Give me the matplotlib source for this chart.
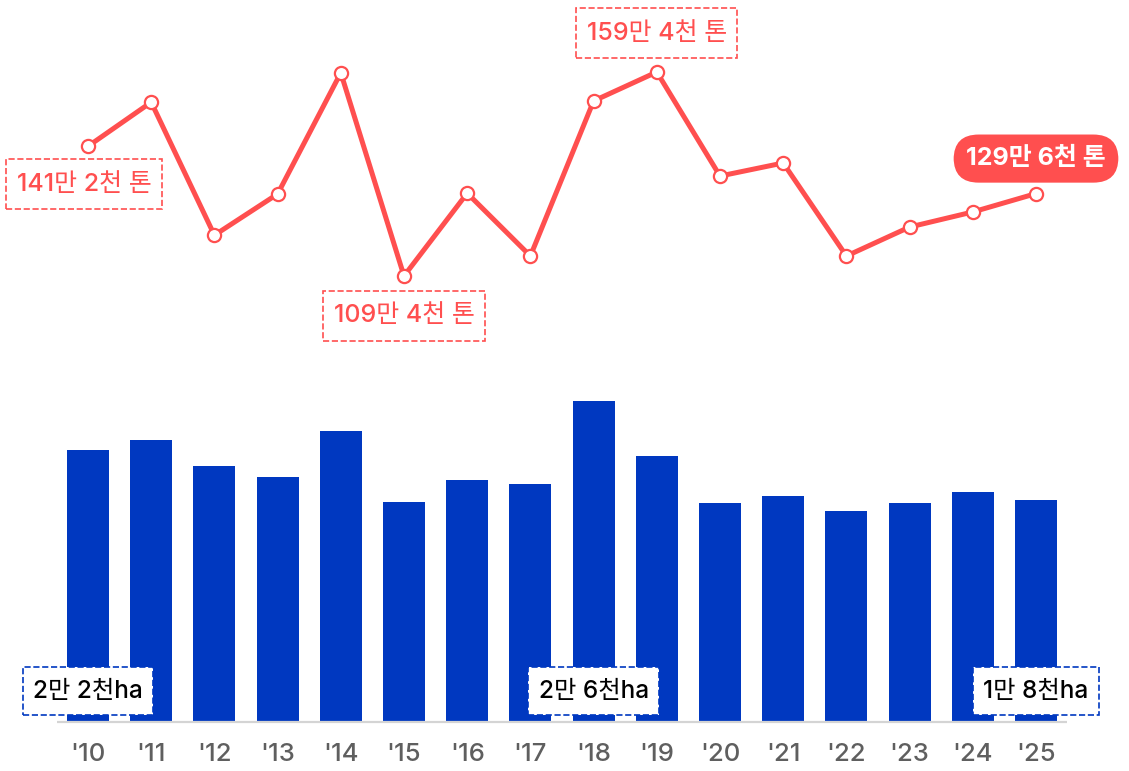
import numpy as np
import matplotlib.pyplot as plt

plt.rcParams['font.family'] = ['Inter', 'Noto Sans CJK KR', 'DejaVu Sans']

years = ["'10", "'11", "'12", "'13", "'14", "'15", "'16", "'17",
         "'18", "'19", "'20", "'21", "'22", "'23", "'24", "'25"]
# 생산량 (만 톤)
prod = [141.2, 152.0, 119.4, 129.5, 159.2, 109.4, 129.7, 114.3,
        152.3, 159.4, 133.9, 137.1, 114.3, 121.4, 125.1, 129.6]
# 재배면적 (천 ha)
area = [22.0, 22.8, 20.7, 19.8, 23.6, 17.8, 19.6, 19.3,
        26.0, 21.5, 17.7, 18.3, 17.1, 17.7, 18.6, 18.0]

RED = '#ff4f4f'
BLUE = '#0038c0'

x = np.arange(len(years))
fig = plt.figure(figsize=(11.29, 7.71), dpi=100)

# bars (bottom)
ax = fig.add_axes([0, 0, 1, 1])
ax.bar(x, area, width=0.665, color=BLUE, zorder=2)
ax.set_xlim(-88 / 63.2, (1129 - 88) / 63.2)
ax.set_ylim(-49 / 12.35, -49 / 12.35 + 771 / 12.35)
ax.plot([-0.49, 15.49], [0, 0], color='#d4d4d4', lw=1.6, zorder=3, solid_capstyle='butt')
for i, yy in enumerate(years):
    ax.text(i, -2.65, yy, ha='center', va='center', fontsize=18.5, color='#5f5f5f',
            fontweight='medium')
ax.axis('off')

bar_lbl = {0: '2만 2천ha', 8: '2만 6천ha', 15: '1만 8천ha'}
for i, s in bar_lbl.items():
    ax.annotate(s, xy=(i, 0), xytext=(0, 31), textcoords='offset pixels',
                ha='center', va='center', fontsize=17.5, color='black', zorder=5,
                fontweight='medium',
                bbox=dict(boxstyle='square,pad=0.43', fc='white', ec=BLUE,
                          ls='--', lw=1.2, mutation_aspect=1.15))

# line (top)
ax2 = fig.add_axes([0, 0, 1, 1], sharex=ax)
ax2.set_ylim(-11.93, 177.05)
ax2.plot(x, prod, color=RED, lw=3.6, marker='o', markersize=9.5,
         markerfacecolor='white', markeredgecolor=RED, markeredgewidth=1.6,
         solid_capstyle='round', zorder=3)
ax2.axis('off')

line_lbl = {0: (-4, -38), 5: (0, -40), 9: (0, 39)}
for i, off in line_lbl.items():
    ax2.annotate(f'{int(prod[i])}만 {round(prod[i] * 10) % 10}천 톤', xy=(i, prod[i]),
                 xytext=off, textcoords='offset pixels', ha='center', va='center',
                 fontsize=18, color=RED, zorder=5, fontweight='medium',
                 bbox=dict(boxstyle='square,pad=0.42', fc='white', ec=RED,
                           ls='--', lw=1.2, mutation_aspect=1.3))
ax2.annotate('129만 6천 톤', xy=(15, prod[15]), xytext=(0, 35), textcoords='offset pixels',
             ha='center', va='center', fontsize=18, color='white', fontweight='bold',
             zorder=5, bbox=dict(boxstyle='round,pad=0.5,rounding_size=1.0', fc=RED, ec='none'))

plt.savefig('out.png', dpi=100)
